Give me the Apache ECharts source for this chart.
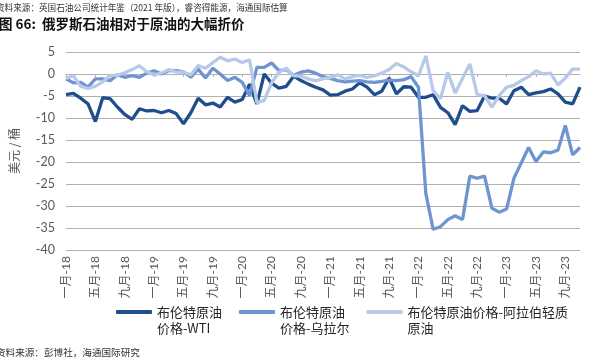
<!DOCTYPE html>
<html>
<head>
<meta charset="utf-8">
<script src="https://cdn.jsdelivr.net/npm/echarts@6/dist/echarts.min.js"></script>
<style>
html,body{margin:0;padding:0;background:#fff;}
#c{width:591px;height:361px;}
</style>
</head>
<body>
<div id="c"></div>
<script>
// ---- data ----
const monthNames = ['一月','二月','三月','四月','五月','六月','七月','八月','九月','十月','十一月','十二月'];
const years = ['18','19','20','21','22','23'];
const monthCount = 71; // Jan-18 .. Nov-23
const categories = [];
for (const y of years) for (const m of monthNames) if (categories.length < monthCount) categories.push(m + '-' + y);

const yTicks = {min: -40, max: 5, interval: 5};

const wti = [-4.7,-4.4,-5.5,-6.8,-10.8,-5.4,-5.6,-7.5,-9.2,-10.3,-7.9,-8.4,-8.3,-8.8,-8.3,-9.0,-11.3,-8.8,-5.5,-7.0,
  -6.6,-7.5,-5.3,-6.4,-5.8,-2.3,-6.8,0,-2.1,-3.2,-2.8,-0.5,-1.5,-2.3,-3.0,-3.6,-4.8,-4.7,-3.9,-3.4,
  -2.0,-3.0,-4.7,-3.9,-0.9,-4.5,-2.9,-3.0,-5.3,-5.3,-4.7,-7.6,-8.8,-11.5,-7.2,-8.5,-8.3,-5.0,-5.5,-5.5,
  -6.8,-3.8,-3.0,-4.7,-4.3,-4.0,-3.4,-4.5,-6.4,-6.8,-3.0];
const urals = [-1.1,-2.0,-1.9,-3.0,-1.1,-1.1,-1.5,-0.2,-0.75,-0.4,-0.75,0.2,0.75,0,0.75,0.75,0.5,-0.75,1.1,-0.9,
  1.3,0,-1.5,-0.75,-1.9,-4.9,1.5,1.5,2.5,0.75,1.0,-0.3,0.4,0.7,0.2,-0.6,-1.0,-1.5,-1.8,-1.6,
  -1.5,-1.8,-1.9,-1.7,-1.4,-1.5,-1.3,-0.6,-3.0,-27.1,-35.3,-34.7,-33.1,-32.2,-33.1,-23.2,-23.7,-23.2,-30.5,-31.4,
  -30.7,-23.7,-20.2,-16.7,-19.9,-17.7,-17.9,-17.3,-11.7,-18.4,-16.7];
const arabLight = [-1.0,-0.4,-2.8,-3.3,-2.8,-1.8,-0.3,-0.3,0.3,1.0,1.9,0.5,-0.2,0.2,1.0,0.5,0.4,-0.2,1.9,1.3,
  2.6,3.8,3.0,3.4,2.6,3.2,-6.5,-6.0,-2.0,0.4,1.3,-0.4,-0.5,-1.1,-1.5,-1.1,-0.8,-0.2,-1.1,-0.6,
  -0.3,-0.8,-0.4,0.2,1.0,2.4,1.6,0.5,-0.4,4.1,-3.8,-5.6,0.4,-4.3,-1.0,2.3,-4.7,-4.9,-7.5,-4.9,
  -3.0,-2.6,-1.5,-0.6,0.75,0,0.2,-2.5,-0.9,1.1,1.1];

const seriesNames = ['布伦特原油\n价格-WTI','布伦特原油\n价格-乌拉尔','布伦特原油价格-阿拉伯轻质\n原油'];
const seriesColors = ['#1f4e8c','#6f95d0','#b7c9e8'];

const NUM_FONT = 'Lato, "Noto Sans CJK SC", sans-serif';
const CJK_FONT = '"Noto Sans CJK SC", sans-serif';

const chart = echarts.init(document.getElementById('c'), null, {renderer: 'canvas'});
chart.setOption({
  animation: false,
  backgroundColor: '#fff',
  graphic: [
    {type: 'text', x: -4, y: 8, style: {text: '资料来源：英国石油公司统计年鉴（2021 年版），睿咨得能源，海通国际估算', font: '8.6px ' + CJK_FONT, fill: '#333', verticalAlign: 'middle'}},
    {type: 'text', x: -1, y: 24, style: {text: '图 66:  俄罗斯石油相对于原油的大幅折价', font: 'bold 13.5px ' + CJK_FONT, fill: '#111', verticalAlign: 'middle'}},
    {type: 'text', x: -4, y: 352, style: {text: '资料来源：彭博社，海通国际研究', font: '9.6px ' + CJK_FONT, fill: '#333', verticalAlign: 'middle'}}
  ],
  grid: {left: 62, right: 11, top: 52, bottom: 111, containLabel: false},
  legend: {
    data: seriesNames,
    formatter: function (n) { return '\n' + n; },
    left: 111, top: 283,
    icon: 'roundRect', itemWidth: 36, itemHeight: 4, itemGap: 17,
    textStyle: {fontFamily: CJK_FONT, fontSize: 13, color: '#262626', lineHeight: 16}
  },
  xAxis: [{
    type: 'category', data: categories, boundaryGap: false, position: 'bottom',
    axisLine: {show: false, onZero: false}, axisTick: {show: false},
    axisLabel: {interval: 3, rotate: 90, fontSize: 12, color: '#595959', fontFamily: NUM_FONT, margin: 6, padding: [6, 0, 0, 0]},
    splitLine: {show: false}
  }, {
    type: 'category', data: categories, boundaryGap: false, position: 'top',
    axisLine: {show: true, onZero: true, lineStyle: {color: '#b0b0b0', width: 1}},
    axisTick: {show: true, interval: 3, inside: true, length: 3, lineStyle: {color: '#b0b0b0'}},
    axisLabel: {show: false}, splitLine: {show: false}
  }],
  yAxis: {
    type: 'value', min: yTicks.min, max: yTicks.max, interval: yTicks.interval,
    name: '美元 / 桶', nameLocation: 'middle', nameGap: 46, nameRotate: 90,
    nameTextStyle: {fontFamily: CJK_FONT, fontSize: 12, color: '#595959'},
    axisLine: {show: false}, axisTick: {show: false},
    axisLabel: {fontSize: 12.5, color: '#595959', fontFamily: NUM_FONT, margin: 11},
    splitLine: {lineStyle: {color: '#b0b0b0', width: 1}}
  },
  series: [
    {name: seriesNames[0], type: 'line', data: wti, xAxisIndex: 0, symbol: 'none', color: seriesColors[0], lineStyle: {width: 3.3, color: seriesColors[0]}},
    {name: seriesNames[1], type: 'line', data: urals, xAxisIndex: 0, symbol: 'none', color: seriesColors[1], lineStyle: {width: 3.3, color: seriesColors[1]}},
    {name: seriesNames[2], type: 'line', data: arabLight, xAxisIndex: 0, symbol: 'none', color: seriesColors[2], lineStyle: {width: 3.3, color: seriesColors[2]}}
  ]
});
</script>
</body>
</html>
